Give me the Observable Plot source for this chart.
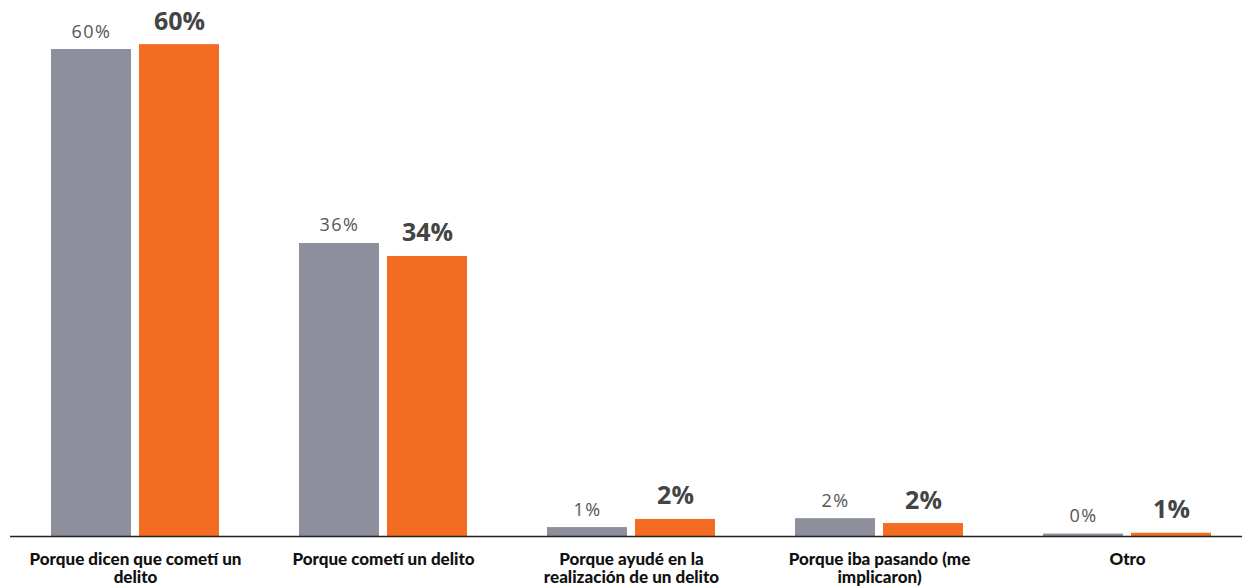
<!DOCTYPE html>
<html>
<head>
<meta charset="utf-8">
<script src="https://cdn.jsdelivr.net/npm/d3@7"></script>
<script src="https://cdn.jsdelivr.net/npm/@observablehq/plot@0.6"></script>
<style>
  html, body { margin: 0; padding: 0; background: #fff; }
  #chart svg { display: block; }
</style>
</head>
<body>
<div id="chart"></div>
<script>
const categories = [
  "Porque dicen que cometí un delito",
  "Porque cometí un delito",
  "Porque ayudé en la realización de un delito",
  "Porque iba pasando (me implicaron)",
  "Otro"
];
const tickLabels = [
  "Porque dicen que cometí un\ndelito",
  "Porque cometí un delito",
  "Porque ayudé en la\nrealización de un delito",
  "Porque iba pasando (me\nimplicaron)",
  "Otro"
];
const grayValues = [60.0, 36.1, 1.1, 2.2, 0.3];
const orangeValues = [60.6, 34.5, 2.1, 1.6, 0.4];
const grayLabels = ["60%", "36%", "1%", "2%", "0%"];
const orangeLabels = ["60%", "34%", "2%", "2%", "1%"];

const gray = categories.map((c, i) => ({cat: c, value: grayValues[i], label: grayLabels[i]}));
const orange = categories.map((c, i) => ({cat: c, value: orangeValues[i], label: orangeLabels[i]}));
const tickMap = new Map(categories.map((c, i) => [c, tickLabels[i]]));

const chart = Plot.plot({
  width: 1242,
  height: 587,
  marginLeft: 10,
  marginRight: 0,
  marginTop: 0,
  marginBottom: 51,
  x: {type: "band", domain: categories, range: [11, 1251], padding: 0, label: null},
  y: {domain: [0, 60], range: [536, 49], axis: null},
  style: {fontFamily: "Lato, 'Open Sans', sans-serif", background: "#fff"},
  marks: [
    Plot.barY(gray, {x: "cat", y: "value", fill: "#8d909c", insetLeft: 40, insetRight: 128}),
    Plot.barY(orange, {x: "cat", y: "value", fill: "#f36c21", insetLeft: 128, insetRight: 40}),
    Plot.text(gray, {x: "cat", y: "value", text: "label", dx: -44, dy: -12, lineAnchor: "bottom",
      fill: "#555", fontSize: 18, fontFamily: "'Open Sans', sans-serif"}),
    Plot.text(orange, {x: "cat", y: "value", text: "label", dx: 44, dy: -15, lineAnchor: "bottom",
      fill: "#444", fontSize: 25, fontWeight: "bold", fontFamily: "'Open Sans', sans-serif"}),
    Plot.ruleY([0], {stroke: "#222", strokeWidth: 1.5}),
    Plot.axisX({
      tickSize: 0,
      tickPadding: 15,
      tickFormat: d => tickMap.get(d),
      fontSize: 17,
      fontWeight: 900,
      fill: "#111",
      lineHeight: 1.1,
      label: null
    })
  ]
});
// light letter spacing on the grey value labels
d3.select(chart).selectAll('g[aria-label="text"]').filter((d, i) => i === 0)
  .style("letter-spacing", "1.5px");
document.getElementById("chart").appendChild(chart);
</script>
</body>
</html>
